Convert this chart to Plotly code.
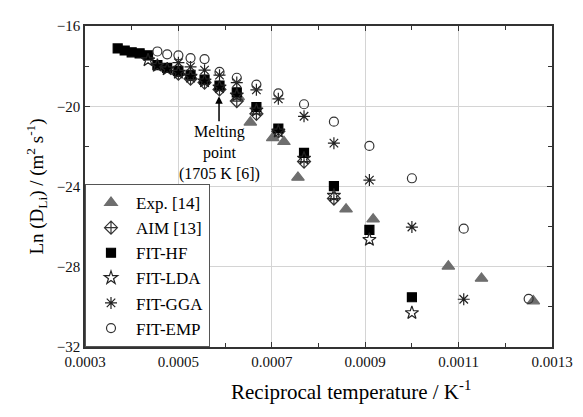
import plotly.graph_objs as go

# reciprocal temperatures (1/K)
x_hf = [0.000370, 0.000385, 0.000400, 0.000417, 0.000435, 0.000455, 0.000476, 0.000500, 0.000526,
        0.000556, 0.000588, 0.000625, 0.000667, 0.000714, 0.000769, 0.000833, 0.000909, 0.001000]
y_hf = [-17.12, -17.22, -17.31, -17.36, -17.46, -17.95, -18.09, -18.24, -18.43,
        -18.67, -18.97, -19.31, -20.04, -21.11, -22.32, -23.98, -26.16, -29.52]

x_lda = [0.000435, 0.000455, 0.000476, 0.000500, 0.000526, 0.000556, 0.000588,
         0.000625, 0.000667, 0.000714, 0.000769, 0.000833, 0.000909, 0.001000]
y_lda = [-17.7, -17.98, -18.15, -18.32, -18.52, -18.75, -19.05,
         -19.45, -20.2, -21.25, -22.6, -24.45, -26.65, -30.3]

x_aim = [0.000500, 0.000526, 0.000556, 0.000588, 0.000625, 0.000667, 0.000714, 0.000769, 0.000833]
y_aim = [-18.38, -18.63, -18.82, -19.16, -19.74, -20.38, -21.25, -22.76, -24.6]

x_exp = [0.000628, 0.000654, 0.000702, 0.000726, 0.000756, 0.000859, 0.000917, 0.001078, 0.001149, 0.001260]
y_exp = [-19.53, -20.8, -21.58, -21.77, -23.55, -25.13, -25.63, -27.98, -28.58, -29.71]

x_gga = [0.000500, 0.000526, 0.000556, 0.000588, 0.000625, 0.000667, 0.000714,
         0.000769, 0.000833, 0.000909, 0.001000, 0.001111]
y_gga = [-17.83, -18.04, -18.2, -18.45, -18.82, -19.18, -19.63,
         -20.5, -21.84, -23.68, -26.02, -29.62]

x_emp = [0.000455, 0.000476, 0.000500, 0.000526, 0.000556, 0.000588, 0.000625, 0.000667,
         0.000714, 0.000769, 0.000833, 0.000909, 0.001000, 0.001111, 0.001250]
y_emp = [-17.27, -17.41, -17.46, -17.6, -17.65, -18.29, -18.58, -18.92,
         -19.36, -19.9, -20.77, -21.98, -23.59, -26.1, -29.6]

x_ticks = [0.0003, 0.0005, 0.0007, 0.0009, 0.0011, 0.0013]
y_ticks = [-32, -28, -24, -20, -16]

FONT = "Liberation Serif, Times New Roman, serif"

def pts(name, x, y, symbol, color, size=9):
    return go.Scatter(x=x, y=y, mode="markers", name=name,
                      marker=dict(symbol=symbol, size=size, color=color,
                                  line=dict(color=color, width=1.2)))

data = [
    pts("Exp. [14]", x_exp, y_exp, "triangle-up", "#6e6e6e", 11),
    pts("AIM [13]", x_aim, y_aim, "diamond-cross-open", "#333333", 10),
    pts("FIT-HF", x_hf, y_hf, "square", "black", 9),
    pts("FIT-LDA", x_lda, y_lda, "star-open", "#222222", 10),
    pts("FIT-GGA", x_gga, y_gga, "asterisk-open", "#222222", 10),
    pts("FIT-EMP", x_emp, y_emp, "circle-open", "#333333", 9),
]

axis_common = dict(showline=True, linecolor="#333333", linewidth=1.5, mirror="ticks",
                   ticks="inside", ticklen=5, tickcolor="#333333",
                   showgrid=True, gridcolor="#d4d4d4", gridwidth=1.2, zeroline=False,
                   tickfont=dict(family=FONT, size=15, color="#111111"))

# page body has an 8px margin, so the figure is a bit smaller than the window
layout = dict(
    width=575, height=409,
    paper_bgcolor="white", plot_bgcolor="white",
    margin=dict(l=77, r=21, t=10, b=70),
    font=dict(family=FONT, color="black"),
    xaxis=dict(range=[0.0003, 0.0013], tickvals=x_ticks, tickformat=".4f",
               minor=dict(dtick=0.0001, ticks="inside", ticklen=4, tickcolor="#333333", showgrid=False),
               **axis_common),
    yaxis=dict(range=[-32, -16], tickvals=y_ticks,
               title=dict(text="Ln (D<sub>Li</sub>) / (m<sup>2</sup> s<sup>-1</sup>)",
                          font=dict(family=FONT, size=19), standoff=8),
               minor=dict(dtick=2, ticks="inside", ticklen=4, tickcolor="#333333", showgrid=False),
               **axis_common),
    legend=dict(x=0, y=0, xanchor="left", yanchor="bottom",
                bgcolor="white", bordercolor="#555555", borderwidth=1,
                font=dict(family=FONT, size=17), itemwidth=40,
                tracegroupgap=0),
    showlegend=True,
    annotations=[
        dict(x=0.000587, y=-19.5, ax=0, ay=25, xref="x", yref="y",
             text="Melting<br>point<br>(1705 K [6])", showarrow=True,
             arrowhead=2, arrowsize=1, arrowwidth=1.5, arrowcolor="black",
             font=dict(family=FONT, size=16, color="black"),
             yanchor="top"),
        # x axis title, sits right of centre in the original
        dict(x=0.57, y=0, xref="paper", yref="paper", yshift=-43,
             text="Reciprocal temperature / K<sup>-1</sup>", showarrow=False,
             font=dict(family=FONT, size=21, color="black"),
             xanchor="center", yanchor="middle"),
    ],
)

fig = go.Figure(data=data, layout=layout)
fig.write_html("out.html")
